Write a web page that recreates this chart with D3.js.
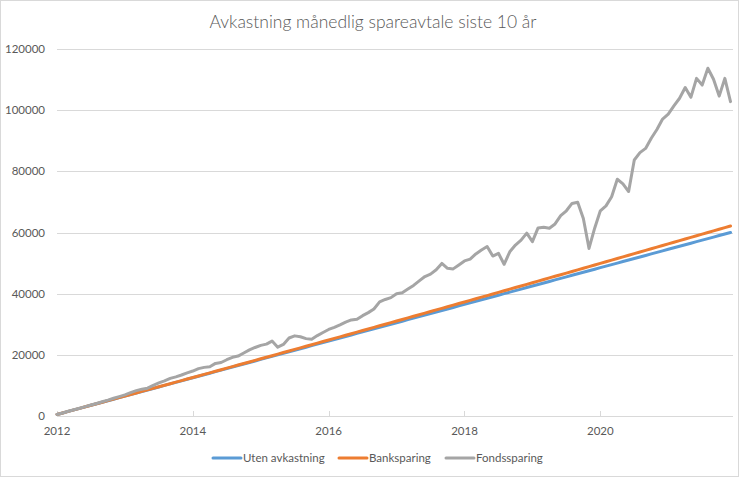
<!DOCTYPE html>
<html>
<head>
<meta charset="utf-8">
<script src="https://cdn.jsdelivr.net/npm/d3@7"></script>
<style>
html,body{margin:0;padding:0;background:#fff;}
svg{display:block;}
text{font-family:Lato,"Open Sans",sans-serif;fill:#595959;}
</style>
</head>
<body>
<svg id="c" width="748" height="478"></svg>
<script>
// ---- data (monthly, Jan 2012 .. Dec 2021) ----
const startYear = 2012;
const seriesNames = ["Uten avkastning", "Banksparing", "Fondssparing"];
const utenAvkastning = [
  500,1000,1500,2000,2500,3000,3500,4000,4500,5000,5500,6000,
  6500,7000,7500,8000,8500,9000,9500,10000,10500,11000,11500,12000,
  12500,13000,13500,14000,14500,15000,15500,16000,16500,17000,17500,18000,
  18500,19000,19500,20000,20500,21000,21500,22000,22500,23000,23500,24000,
  24500,25000,25500,26000,26500,27000,27500,28000,28500,29000,29500,30000,
  30500,31000,31500,32000,32500,33000,33500,34000,34500,35000,35500,36000,
  36500,37000,37500,38000,38500,39000,39500,40000,40500,41000,41500,42000,
  42500,43000,43500,44000,44500,45000,45500,46000,46500,47000,47500,48000,
  48500,49000,49500,50000,50500,51000,51500,52000,52500,53000,53500,54000,
  54500,55000,55500,56000,56500,57000,57500,58000,58500,59000,59500,60000
];
const banksparing = [
  500,1000,1501,2002,2503,3005,3506,4008,4511,5014,5517,6020,
  6523,7027,7532,8036,8541,9046,9551,10057,10563,11069,11576,12083,
  12590,13098,13605,14113,14622,15131,15640,16149,16658,17168,17679,18189,
  18700,19211,19722,20234,20746,21258,21771,22284,22797,23311,23824,24338,
  24853,25368,25883,26398,26913,27429,27946,28462,28979,29496,30013,30531,
  31049,31567,32086,32605,33124,33644,34163,34683,35204,35725,36246,36767,
  37288,37810,38333,38855,39378,39901,40424,40948,41472,41996,42521,43046,
  43571,44097,44622,45148,45675,46202,46729,47256,47783,48311,48840,49368,
  49897,50426,50955,51485,52015,52545,53076,53607,54138,54670,55201,55733,
  56266,56799,57332,57865,58398,58932,59467,60001,60536,61071,61606,62142
];
const fondssparing = [
  500,1000,1550,2050,2550,3050,3600,4100,4650,5200,5800,6350,
  6900,7650,8300,8750,9100,10000,10800,11500,12300,12800,13400,14100,
  14700,15500,15900,16100,17200,17500,18400,19200,19600,20600,21600,22400,
  23100,23500,24500,22500,23400,25500,26200,25900,25300,25100,26300,27300,
  28300,29000,29800,30700,31400,31600,32800,33800,35000,37300,38100,38700,
  40000,40300,41500,42700,44200,45600,46400,47800,49900,48300,48100,49400,
  50700,51300,53000,54300,55400,52300,53200,49600,53700,55900,57500,59800,
  57000,61500,61700,61400,62800,65500,67100,69500,69900,64600,54800,61400,
  67100,68700,71700,77400,75900,73400,83700,86100,87500,90800,93700,97100,
  98700,101400,103900,107400,104200,110400,108200,113700,110100,104600,110400,102800
];
const xTickYears = [2012, 2014, 2016, 2018, 2020];
const yTickValues = [0, 20000, 40000, 60000, 80000, 100000, 120000];
const titleText = "Avkastning månedlig spareavtale siste 10 år";

// ---- styles ----
const colors = ["#5B9BD5", "#ED7D31", "#A5A5A5"];
const gridColor = "#D9D9D9";

const svg = d3.select("#c");

// outer chart border
svg.append("rect").attr("x", 0.5).attr("y", 0.5).attr("width", 738).attr("height", 476)
  .attr("fill", "#fff").attr("stroke", gridColor).attr("stroke-width", 1);

const n = utenAvkastning.length;
const x = d3.scaleLinear().domain([startYear, startYear + (n - 1) / 12]).range([57, 730.5]);
const y = d3.scaleLinear().domain([0, 120000]).range([416, 49]);
const plotRight = 733;

// gridlines
svg.append("g").selectAll("line").data(yTickValues).join("line")
  .attr("x1", 57).attr("x2", plotRight)
  .attr("y1", d => Math.round(y(d)) + 0.5).attr("y2", d => Math.round(y(d)) + 0.5)
  .attr("stroke", gridColor).attr("stroke-width", 1);

// y labels
svg.append("g").selectAll("text").data(yTickValues).join("text")
  .attr("x", 45).attr("y", d => y(d)).attr("dy", "0.35em")
  .attr("text-anchor", "end").attr("font-size", 11.5)
  .text(d => d3.format("d")(d));

// x axis ticks + labels
const gx = svg.append("g");
gx.selectAll("line").data(xTickYears).join("line")
  .attr("x1", d => Math.round(x(d)) + 0.5).attr("x2", d => Math.round(x(d)) + 0.5)
  .attr("y1", 411).attr("y2", 416.5)
  .attr("stroke", gridColor).attr("stroke-width", 1);
gx.selectAll("text").data(xTickYears).join("text")
  .attr("x", d => x(d)).attr("y", 431).attr("dy", "0.35em")
  .attr("text-anchor", "middle").attr("font-size", 11.5)
  .text(d => d);

// lines
const allSeries = [utenAvkastning, banksparing, fondssparing];
const line = d3.line().x((d, i) => x(startYear + i / 12)).y(d => y(d));
svg.append("g").selectAll("path").data(allSeries).join("path")
  .attr("d", d => line(d))
  .attr("fill", "none")
  .attr("stroke", (d, i) => colors[i])
  .attr("stroke-width", 3)
  .attr("stroke-linejoin", "round")
  .attr("stroke-linecap", "round");

// title
svg.append("text").attr("x", 373).attr("y", 22).attr("dy", "0.35em")
  .attr("text-anchor", "middle").attr("font-size", 17.5).attr("font-weight", 300)
  .text(titleText);

// legend
const legendX = [213, 339, 446];
const lg = svg.append("g").selectAll("g").data(seriesNames).join("g")
  .attr("transform", (d, i) => `translate(${legendX[i]},458)`);
lg.append("line").attr("x1", 0).attr("x2", 28).attr("y1", 0).attr("y2", 0)
  .attr("stroke", (d, i) => colors[i]).attr("stroke-width", 3).attr("stroke-linecap", "round");
lg.append("text").attr("x", 30).attr("y", 0).attr("dy", "0.35em")
  .attr("font-size", 11.5).text(d => d);
</script>
</body>
</html>
